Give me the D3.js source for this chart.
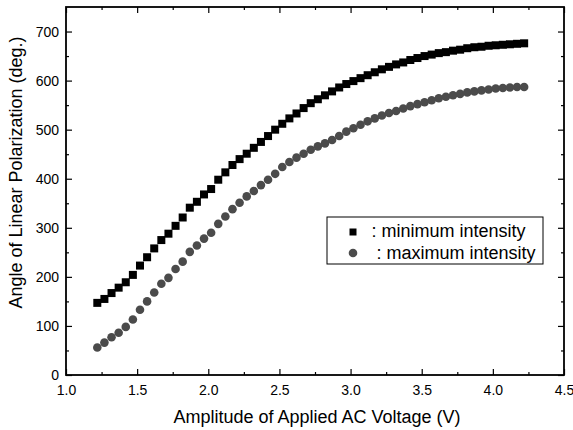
<!DOCTYPE html>
<html>
<head>
<meta charset="utf-8">
<script src="https://cdn.jsdelivr.net/npm/d3@7"></script>
<style>
  body { margin: 0; background: #fff; }
  svg { display: block; font-family: "Liberation Sans", Arial, sans-serif; }
  .tick text { font-size: 14px; fill: #000; }
</style>
</head>
<body>
<svg class="chart"></svg>
<script>
// Graphic margins and dimensions
var width = 573;
var height = 430;
var margin = {top: 7, right: 9, bottom: 55, left: 66};

// applied AC voltage (V)
var voltage = [1.22, 1.27, 1.32, 1.37, 1.42, 1.47, 1.52, 1.57, 1.62, 1.67,
    1.72, 1.77, 1.82, 1.87, 1.92, 1.97, 2.02, 2.07, 2.12, 2.17,
    2.22, 2.27, 2.32, 2.37, 2.42, 2.47, 2.52, 2.57, 2.62, 2.67,
    2.72, 2.77, 2.82, 2.87, 2.92, 2.97, 3.02, 3.07, 3.12, 3.17,
    3.22, 3.27, 3.32, 3.37, 3.42, 3.47, 3.52, 3.57, 3.62, 3.67,
    3.72, 3.77, 3.82, 3.87, 3.92, 3.97, 4.02, 4.07, 4.12, 4.17, 4.22];

// angle at minimum intensity (deg.)
var minIntensity = [147, 155, 167, 178, 189, 204, 223, 240, 258, 275,
    288, 304, 321, 341, 353, 368, 379, 398, 413, 428,
    440, 451, 463, 475, 487, 500, 512, 523, 533, 544,
    554, 562, 570, 578, 586, 593, 599, 605, 611, 617,
    623, 628, 633, 637, 642, 646, 650, 653, 656, 658,
    661, 663, 666, 668, 669, 671, 672, 673, 674, 675, 676];

// angle at maximum intensity (deg.)
var maxIntensity = [56, 66, 77, 86, 98, 113, 133, 150, 168, 186,
    198, 216, 231, 251, 264, 278, 290, 308, 323, 338,
    351, 364, 375, 387, 398, 410, 424, 434, 443, 451,
    459, 466, 472, 479, 487, 496, 503, 510, 517, 523,
    529, 534, 538, 543, 548, 552, 556, 560, 564, 567,
    570, 573, 576, 578, 580, 582, 584, 585, 586, 587, 587];

var xTicks = [1.0, 1.5, 2.0, 2.5, 3.0, 3.5, 4.0, 4.5];
var xMinor = [1.25, 1.75, 2.25, 2.75, 3.25, 3.75, 4.25];
var yTicks = [0, 100, 200, 300, 400, 500, 600, 700];
var yMinor = [50, 150, 250, 350, 450, 550, 650];

var legendLabels = [": minimum intensity", " : maximum intensity"];

var svg = d3.select(".chart")
    .attr("width", width)
    .attr("height", height);

var x = d3.scaleLinear()
    .domain([1.0, 4.5])
    .range([margin.left, width - margin.right]);

var y = d3.scaleLinear()
    .domain([0, 750])
    .range([height - margin.bottom, margin.top]);

var fmt = d3.format(".1f");

// bottom axis with labels, ticks pointing inward
svg.append("g")
    .attr("transform", "translate(0," + y(0) + ")")
    .call(d3.axisBottom(x).tickValues(xTicks).tickFormat(fmt).tickSize(-6).tickPadding(10));
svg.append("g")
    .attr("transform", "translate(0," + y(0) + ")")
    .call(d3.axisBottom(x).tickValues(xMinor).tickFormat("").tickSize(-3));

// left axis
svg.append("g")
    .attr("transform", "translate(" + x(1) + ",0)")
    .call(d3.axisLeft(y).tickValues(yTicks).tickSize(-6).tickPadding(7));
svg.append("g")
    .attr("transform", "translate(" + x(1) + ",0)")
    .call(d3.axisLeft(y).tickValues(yMinor).tickFormat("").tickSize(-3));

// top axis
svg.append("g")
    .attr("transform", "translate(0," + y(750) + ")")
    .call(d3.axisTop(x).tickValues(xTicks).tickFormat("").tickSize(-6));
svg.append("g")
    .attr("transform", "translate(0," + y(750) + ")")
    .call(d3.axisTop(x).tickValues(xMinor).tickFormat("").tickSize(-3));

// right axis
svg.append("g")
    .attr("transform", "translate(" + x(4.5) + ",0)")
    .call(d3.axisRight(y).tickValues(yTicks).tickFormat("").tickSize(-6));
svg.append("g")
    .attr("transform", "translate(" + x(4.5) + ",0)")
    .call(d3.axisRight(y).tickValues(yMinor).tickFormat("").tickSize(-3));

svg.selectAll(".domain").remove();
svg.selectAll(".tick line").attr("stroke", "#000").attr("stroke-width", 1.2);

// frame
svg.append("rect")
    .attr("x", x(1))
    .attr("y", y(750))
    .attr("width", x(4.5) - x(1))
    .attr("height", y(0) - y(750))
    .attr("fill", "none")
    .attr("stroke", "#000")
    .attr("stroke-width", 1.8);

// axis labels
svg.append("text")
    .attr("x", 317)
    .attr("y", 423)
    .style("text-anchor", "middle")
    .style("font-size", "18px")
    .text("Amplitude of Applied AC Voltage (V)");

svg.append("text")
    .attr("transform", "translate(21.5," + 172.5 + ") rotate(-90)")
    .style("text-anchor", "middle")
    .style("font-size", "18px")
    .text("Angle of Linear Polarization (deg.)");

// plot points
var sq = 8;
svg.append("g").selectAll("rect")
    .data(voltage)
    .enter().append("rect")
    .attr("x", function(d) { return x(d) - sq / 2; })
    .attr("y", function(d, i) { return y(minIntensity[i]) - sq / 2; })
    .attr("width", sq)
    .attr("height", sq)
    .attr("fill", "#000");

svg.append("g").selectAll("circle")
    .data(voltage)
    .enter().append("circle")
    .attr("cx", function(d) { return x(d); })
    .attr("cy", function(d, i) { return y(maxIntensity[i]); })
    .attr("r", 4.3)
    .attr("fill", "#4b4b4b");

// legend
var legend = svg.append("g");
legend.append("rect")
    .attr("x", 327)
    .attr("y", 217)
    .attr("width", 216)
    .attr("height", 47)
    .attr("fill", "#fff")
    .attr("stroke", "#000")
    .attr("stroke-width", 1);
legend.append("rect")
    .attr("x", 349.5)
    .attr("y", 228.5)
    .attr("width", 7)
    .attr("height", 7)
    .attr("fill", "#000");
legend.append("circle")
    .attr("cx", 353)
    .attr("cy", 253)
    .attr("r", 4.3)
    .attr("fill", "#4b4b4b");
legend.selectAll("text.lg")
    .data(legendLabels)
    .enter().append("text")
    .attr("class", "lg")
    .attr("x", 371.5)
    .attr("y", function(d, i) { return 237 + i * 21.5; })
    .style("font-size", "18px")
    .style("white-space", "pre")
    .text(function(d) { return d; });
</script>
</body>
</html>
